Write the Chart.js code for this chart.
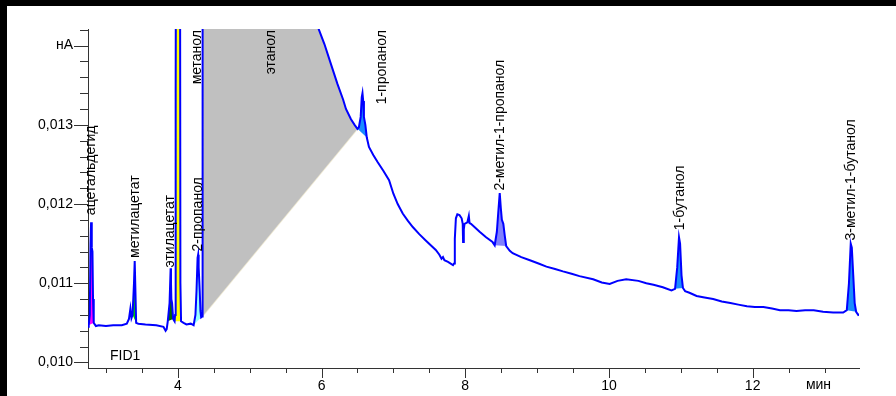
<!DOCTYPE html>
<html>
<head>
<meta charset="utf-8">
<script src="https://cdn.jsdelivr.net/npm/chart.js@4.4.1/dist/chart.umd.min.js"></script>
<style>
    html, body { margin: 0; padding: 0; background: #fff; }
    .wrap { position: relative; width: 896px; height: 396px; }
    canvas { display: block; }
    .edge-top { position: absolute; left: 0; top: 0; width: 896px; height: 6px; background: #000; }
    .edge-left { position: absolute; left: 0; top: 0; width: 7px; height: 396px; background: #000; }
</style>
</head>
<body>
<div class="wrap">
    <canvas id="chart1" width="896" height="396"></canvas>
    <div class="edge-top"></div>
    <div class="edge-left"></div>
</div>
<script>
// Signal FID1: retention time (min) and response (nA)
const sigTime = [
    2.75, 2.76, 2.775, 2.785, 2.793, 2.80, 2.805, 2.812, 2.82, 2.83, 2.86, 2.90, 3.00, 3.10, 3.22,
    3.29, 3.32, 3.34, 3.355, 3.37, 3.39, 3.40, 3.41, 3.42, 3.45, 3.55, 3.70, 3.80, 3.83, 3.845,
    3.86, 3.885, 3.90, 3.905, 3.91, 3.92, 3.935, 3.955, 3.962, 3.968, 3.972, 3.975, 3.98, 4.02,
    4.03, 4.036, 4.045, 4.08, 4.12, 4.18, 4.22, 4.245, 4.26, 4.275, 4.283, 4.29, 4.305, 4.315,
    4.325, 4.34, 4.345, 4.36, 4.6, 5.2, 5.6, 5.8, 5.9,
    5.96, 6.04, 6.13, 6.22, 6.30, 6.34, 6.41, 6.46, 6.50, 6.52, 6.545, 6.56, 6.57, 6.58, 6.59,
    6.61, 6.63, 6.66, 6.72, 6.78, 6.86, 6.94, 7.00, 7.06, 7.13, 7.20, 7.27, 7.36, 7.45, 7.52,
    7.59, 7.64, 7.67, 7.69, 7.71, 7.76, 7.83, 7.845, 7.855, 7.87, 7.89, 7.92, 7.95, 7.965, 7.97,
    7.98, 7.99, 8.03, 8.05, 8.06, 8.08, 8.14, 8.20, 8.29, 8.38, 8.41, 8.44, 8.46, 8.48, 8.495,
    8.51, 8.53, 8.55, 8.57, 8.62, 8.66, 8.78, 8.90, 9.02, 9.13, 9.25, 9.36, 9.48, 9.59, 9.78,
    9.90, 10.01, 10.12, 10.24, 10.41, 10.52, 10.62, 10.75, 10.87, 10.92, 10.95, 10.975, 10.99,
    11.01, 11.03, 11.06, 11.12, 11.22, 11.33, 11.45, 11.57, 11.69, 11.80, 11.92, 12.03, 12.15,
    12.27, 12.38, 12.50, 12.61, 12.73, 12.85, 12.98, 13.12, 13.26, 13.31, 13.34, 13.365, 13.38,
    13.40, 13.42, 13.44, 13.47, 13.50
];
const sigValue = [
    0.01045, 0.01047, 0.0106, 0.0115, 0.01177, 0.0116, 0.01145, 0.0114, 0.0108, 0.0105, 0.01046, 0.01047, 0.01046, 0.01047, 0.01047,
    0.01049, 0.01055, 0.01068, 0.01056, 0.0106, 0.0110, 0.01128, 0.0109, 0.0105, 0.01049, 0.01048, 0.01047, 0.01045, 0.0104, 0.01042,
    0.01052, 0.01075, 0.01119, 0.0110, 0.0108, 0.01075, 0.01055, 0.01052, 0.0106, 0.0110, 0.0134, 0.016, 0.03, 0.03,
    0.016, 0.0110, 0.01052, 0.0105, 0.01048, 0.01049, 0.01047, 0.0106, 0.0109, 0.01132, 0.01136, 0.0112, 0.0109, 0.01065,
    0.01057, 0.01058, 0.016, 0.025, 0.03, 0.022, 0.0165, 0.0152, 0.0146,
    0.01421, 0.01402, 0.01377, 0.01352, 0.01332, 0.01320, 0.01307, 0.01300, 0.01295, 0.01297, 0.0131, 0.01335, 0.01340, 0.0133, 0.0131,
    0.0130, 0.01284, 0.01272, 0.01262, 0.01253, 0.01242, 0.0123, 0.01213, 0.01200, 0.01188, 0.01179, 0.01171, 0.01162, 0.01154, 0.01148,
    0.01142, 0.01136, 0.01131, 0.01133, 0.01129, 0.01127, 0.01123, 0.01125, 0.01156, 0.01182, 0.01187, 0.01186, 0.01182, 0.01175, 0.01152,
    0.01168, 0.01175, 0.01177, 0.01185, 0.01176, 0.01175, 0.0117, 0.01165, 0.01158, 0.01152, 0.01148, 0.01165, 0.0119, 0.01214, 0.01195,
    0.0118, 0.01175, 0.0116, 0.01147, 0.01141, 0.01138, 0.01133, 0.01129, 0.01125, 0.01121, 0.01118, 0.01115, 0.01112, 0.01109, 0.01105,
    0.01101, 0.01099, 0.01103, 0.01105, 0.01103, 0.01100, 0.01098, 0.01095, 0.01091, 0.01093, 0.0112, 0.01158, 0.0115,
    0.0111, 0.01094, 0.0109, 0.01088, 0.01084, 0.01082, 0.0108, 0.01077, 0.01075, 0.01073, 0.01071, 0.0107, 0.0107,
    0.01068, 0.01066, 0.01066, 0.01065, 0.01066, 0.01066, 0.01064, 0.01063, 0.01063, 0.01066, 0.0110, 0.0115, 0.01145,
    0.0111, 0.01075, 0.01064, 0.0106, 0.01061
];

// Integrated peak areas: start/end time and baseline value at each end
const areaStart = [2.76, 3.37, 3.86, 3.955, 4.22, 4.34, 6.50, 8.41, 10.92, 13.31];
const areaEnd = [2.83, 3.42, 3.935, 4.045, 4.325, 6.50, 6.63, 8.57, 11.03, 13.44];
const areaBaseStart = [0.01047, 0.0106, 0.01052, 0.01052, 0.01047, 0.01058, 0.01295, 0.01148, 0.01093, 0.01066];
const areaBaseEnd = [0.0105, 0.0105, 0.01055, 0.01052, 0.01057, 0.01295, 0.01284, 0.01147, 0.01094, 0.01064];
const areaColors = ["#ff00ff", "#00d000", "#006600", "#ffff00", "#99ffff", "#c0c0c0",
                    "#1a8cff", "#8080ff", "#1a8cff", "#1a8cff"];

// Peak names, where each label sits (time) and the value its text starts from (null = hangs from top)
const peakNames = ["ацетальдегид", "метилацетат", "этилацетат", "2-пропанол", "метанол", "этанол",
                   "1-пропанол", "2-метил-1-пропанол", "1-бутанол", "3-метил-1-бутанол"];
const peakLabelTime = [2.787, 3.40, 3.89, 4.28, 4.27, 5.30, 6.845, 8.48, 10.99, 13.37];
const peakLabelValue = [0.01186, 0.01132, 0.0112, 0.0114, null, null, null, 0.01217, 0.01167, 0.01154];

const FONT = "Liberation Sans, Arial, sans-serif";

function createChart(_time, _value) {
    const signal = _time.map((t, i) => ({ x: t, y: _value[i] }));

    const datasets = [
        {
            label: "FID1",
            data: signal,
            borderColor: "#0000ff",
            borderWidth: 2,
            pointRadius: 0,
            fill: false,
            tension: 0
        }
    ];

    // each area = slice of the signal filled down to its own baseline dataset
    areaStart.forEach((t0, k) => {
        const t1 = areaEnd[k];
        datasets.push({
            label: "area" + k,
            data: signal.filter(p => p.x >= t0 && p.x <= t1),
            borderWidth: 0,
            borderColor: "rgba(0,0,0,0)",
            backgroundColor: areaColors[k],
            pointRadius: 0,
            fill: "+1"
        });
        datasets.push({
            label: "base" + k,
            data: [{ x: t0, y: areaBaseStart[k] }, { x: t1, y: areaBaseEnd[k] }],
            borderWidth: k === 5 ? 1.5 : 0,
            borderColor: k === 5 ? "#eee8d0" : "rgba(0,0,0,0)",
            pointRadius: 0,
            fill: false
        });
    });

    const frame = {
        id: "frame",
        beforeDraw(chart) {
            const ctx = chart.ctx;
            ctx.save();
            ctx.fillStyle = "#fff";
            ctx.fillRect(0, 0, 896, 396);
            ctx.restore();
        },
        afterDraw(chart) {
            const ctx = chart.ctx;
            const area = chart.chartArea;
            const xs = chart.scales.x;
            const ys = chart.scales.y;
            ctx.save();
            // tick marks: long on labelled values, short otherwise
            ctx.strokeStyle = "#333";
            ctx.lineWidth = 1;
            ctx.beginPath();
            ys.ticks.forEach(tk => {
                const py = Math.round(ys.getPixelForValue(tk.value)) + 0.5;
                const major = Math.round(tk.value * 10000) % 10 === 0;
                ctx.moveTo(area.left - (major ? 14 : 8), py);
                ctx.lineTo(area.left, py);
            });
            xs.ticks.forEach(tk => {
                const px = Math.round(xs.getPixelForValue(tk.value)) + 0.5;
                const major = tk.value % 2 === 0;
                ctx.moveTo(px, area.bottom);
                ctx.lineTo(px, area.bottom + (major ? 10 : 5));
            });
            ctx.stroke();

            // peak names, vertical
            ctx.fillStyle = "#000";
            ctx.font = "14px " + FONT;
            ctx.textBaseline = "middle";
            peakNames.forEach((name, i) => {
                const px = xs.getPixelForValue(peakLabelTime[i]);
                ctx.save();
                if (peakLabelValue[i] === null) {
                    ctx.translate(px, area.top + 1);
                    ctx.rotate(-Math.PI / 2);
                    ctx.textAlign = "right";
                } else {
                    ctx.translate(px, ys.getPixelForValue(peakLabelValue[i]));
                    ctx.rotate(-Math.PI / 2);
                    ctx.textAlign = "left";
                }
                ctx.fillText(name, 0, 0);
                ctx.restore();
            });

            // axis unit sits a little left of the 13 min tick
            ctx.textAlign = "center";
            ctx.textBaseline = "middle";
            ctx.fillText("мин", xs.getPixelForValue(13) - 6, area.bottom + 17);

            ctx.textAlign = "left";
            ctx.textBaseline = "alphabetic";
            ctx.fillText("FID1", area.left + 22, area.bottom - 8);
            ctx.restore();
        }
    };

    const chartConfig = {
        type: "line",
        data: { datasets: datasets },
        options: {
            responsive: false,
            animation: false,
            layout: { padding: { top: 29, right: 37, left: 0, bottom: 0 } },
            plugins: {
                legend: { display: false },
                tooltip: { enabled: false },
                title: { display: false }
            },
            scales: {
                x: {
                    type: "linear",
                    min: 2.75,
                    max: 13.48,
                    afterFit: s => { s.height = 28; },
                    grid: { display: false, drawTicks: true, tickLength: 8 },
                    border: { display: true, color: "#333", width: 1 },
                    ticks: {
                        stepSize: 0.5,
                        includeBounds: false,
                        autoSkip: false,
                        maxRotation: 0,
                        padding: 2,
                        color: "#000",
                        font: { family: FONT, size: 14 },
                        callback: v => (v % 2 === 0 ? String(v) : "")
                    }
                },
                y: {
                    type: "linear",
                    min: 0.00993,
                    max: 0.01421,
                    afterFit: s => { s.width = 88; },
                    grid: { display: false, drawTicks: true, tickLength: 12 },
                    border: { display: true, color: "#333", width: 1 },
                    ticks: {
                        stepSize: 0.0002,
                        includeBounds: false,
                        autoSkip: false,
                        padding: 3,
                        color: "#000",
                        font: { family: FONT, size: 14 },
                        callback: v => {
                            const k = Math.round(v * 10000);
                            if (k % 10 !== 0) return "";
                            if (k === 140) return "нА";
                            return (k / 10000).toFixed(3).replace(".", ",");
                        }
                    }
                }
            }
        },
        plugins: [frame]
    };

    new Chart(document.getElementById("chart1"), chartConfig);
}

createChart(sigTime, sigValue);
</script>
</body>
</html>
